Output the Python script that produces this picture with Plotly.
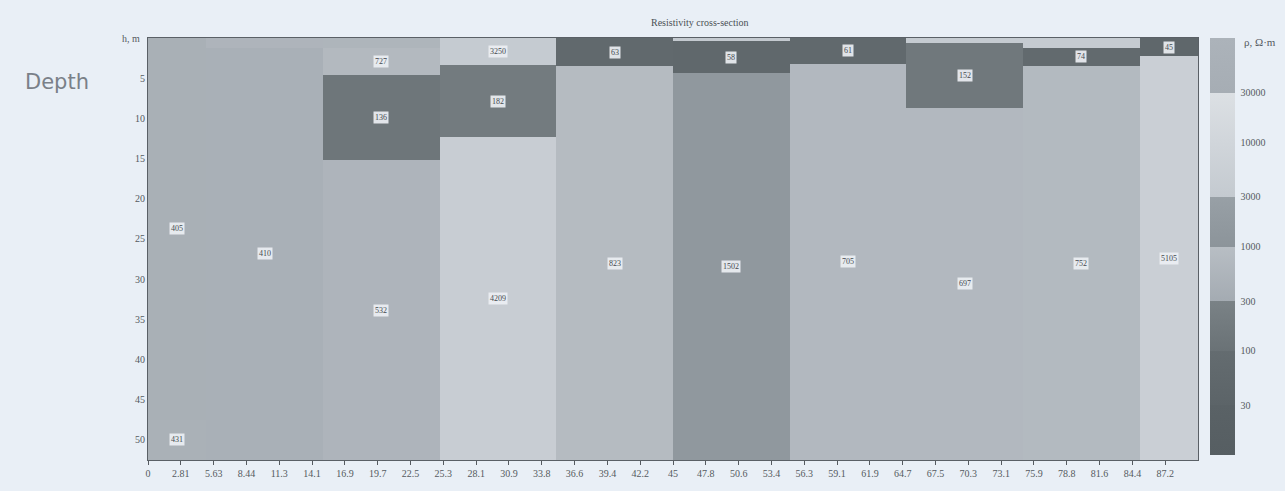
import math
import plotly.graph_objects as go

# Sounding columns along the profile (m)
col_edges = [0, 5, 15, 25, 35, 45, 55, 65, 75, 85, 90]

# Layer bottoms (depth, m) and resistivities (Ohm*m) for each column, top to bottom
layer_bottoms = [
    [47.5, 52.5],
    [1.2, 52.5],
    [1.2, 4.6, 15.2, 52.5],
    [3.4, 12.3, 52.5],
    [3.5, 52.5],
    [0.4, 4.4, 52.5],
    [3.2, 52.5],
    [0.6, 8.7, 52.5],
    [1.2, 3.5, 52.5],
    [2.3, 52.5],
]
layer_rho = [
    [405, 431],
    [540, 410],
    [560, 727, 136, 532],
    [3250, 182, 4209],
    [63, 823],
    [3100, 58, 1502],
    [61, 705],
    [3300, 152, 697],
    [3400, 74, 752],
    [45, 5105],
]

x_ticks = [i * 2.8125 for i in range(32)]
x_ticktext = ["0", "2.81", "5.63", "8.44", "11.3", "14.1", "16.9", "19.7", "22.5",
              "25.3", "28.1", "30.9", "33.8", "36.6", "39.4", "42.2", "45", "47.8",
              "50.6", "53.4", "56.3", "59.1", "61.9", "64.7", "67.5", "70.3", "73.1",
              "75.9", "78.8", "81.6", "84.4", "87.2"]
depth_ticks = [5, 10, 15, 20, 25, 30, 35, 40, 45, 50]
rho_ticks = [30, 100, 300, 1000, 3000, 10000, 30000]

# Grey palette in bands of log10(rho): (lo, hi, colour at lo, colour at hi)
bands = [
    (1.0, math.log10(30), (86, 94, 98), (90, 98, 102)),
    (math.log10(30), 2.0, (92, 100, 104), (100, 108, 112)),
    (2.0, math.log10(300), (106, 114, 118), (122, 130, 134)),
    (math.log10(300), 3.0, (164, 171, 178), (184, 190, 196)),
    (3.0, math.log10(3000), (140, 148, 154), (152, 160, 166)),
    (math.log10(3000), math.log10(30000), (196, 202, 208), (220, 224, 228)),
    (math.log10(30000), 5.0, (166, 173, 180), (172, 179, 186)),
]
zmin, zmax = 1.0, 5.0
colorscale = []
for lo, hi, c0, c1 in bands:
    colorscale.append([(lo - zmin) / (zmax - zmin), "rgb(%d,%d,%d)" % c0])
    colorscale.append([(hi - zmin) / (zmax - zmin), "rgb(%d,%d,%d)" % c1])
colorscale[0][0] = 0.0
colorscale[-1][0] = 1.0

# Build a brick grid from all layer boundaries
y_edges = sorted(set([0.0] + [b for col in layer_bottoms for b in col]))
z = []
for i in range(len(y_edges) - 1):
    mid = 0.5 * (y_edges[i] + y_edges[i + 1])
    row = []
    for bottoms, rhos in zip(layer_bottoms, layer_rho):
        for b, r in zip(bottoms, rhos):
            if mid < b:
                row.append(math.log10(r))
                break
    z.append(row)

fig = go.Figure()
fig.add_trace(go.Heatmap(
    x=col_edges, y=y_edges, z=z,
    zmin=zmin, zmax=zmax, colorscale=colorscale,
    hoverinfo="skip",
    colorbar=dict(
        x=1.0114, xanchor="left", y=1.0, yanchor="top", len=0.988,
        xpad=0, ypad=0,
        thickness=25, outlinewidth=0,
        tickvals=[math.log10(v) for v in rho_ticks],
        ticktext=[str(v) for v in rho_ticks],
        ticks="outside", ticklen=4, tickcolor="#e9eff6",
        tickfont=dict(family="Liberation Serif", size=10, color="#555a60"),
    ),
))

# Value labels at the centre of each layer
annotations = []
for j, (bottoms, rhos) in enumerate(zip(layer_bottoms, layer_rho)):
    xc = 0.5 * (col_edges[j] + col_edges[j + 1])
    top = 0.0
    for b, r in zip(bottoms, rhos):
        if b - top >= 1.5:
            annotations.append(dict(
                x=xc, y=0.5 * (top + b), xref="x", yref="y", text=str(r),
                showarrow=False, bgcolor="rgba(236,239,243,0.92)",
                borderpad=1, font=dict(family="Liberation Serif", size=8, color="#444a50"),
            ))
        top = b

annotations += [
    dict(x=0.526, y=1.0, xref="paper", yref="paper", yanchor="bottom", yshift=8,
         text="Resistivity cross-section", showarrow=False,
         font=dict(family="Liberation Serif", size=10, color="#4a4f55")),
    dict(x=-0.087, y=0.896, xref="paper", yref="paper", xanchor="center", yanchor="middle",
         text="Depth", showarrow=False,
         font=dict(family="DejaVu Sans", size=21, color="#7a8088")),
    dict(x=-0.006, y=1.0, xref="paper", yref="paper", xanchor="right", yanchor="middle",
         text="h, m", showarrow=False,
         font=dict(family="Liberation Serif", size=10, color="#555a60")),
    dict(x=1.042, y=0.99, xref="paper", yref="paper", xanchor="left", yanchor="middle",
         text="ρ, Ω·m", showarrow=False,
         font=dict(family="Liberation Serif", size=11, color="#555a60")),
]

fig.update_layout(
    width=1285, height=491,
    margin=dict(l=148, r=87, t=38, b=31, autoexpand=False),
    paper_bgcolor="#e9eff6", plot_bgcolor="#e9eff6",
    annotations=annotations,
    xaxis=dict(range=[0, 90], tickvals=x_ticks, ticktext=x_ticktext,
               ticks="outside", ticklen=4, tickcolor="#555a60",
               showgrid=False, zeroline=False, showline=True, linecolor="#5a6066",
               mirror=True, tickfont=dict(family="Liberation Serif", size=10, color="#555a60")),
    yaxis=dict(range=[52.5, 0], tickvals=depth_ticks,
               ticks="", showgrid=False, zeroline=False, showline=True,
               linecolor="#5a6066", mirror=True,
               tickfont=dict(family="Liberation Serif", size=10, color="#555a60")),
)

fig.write_html("out.html")
